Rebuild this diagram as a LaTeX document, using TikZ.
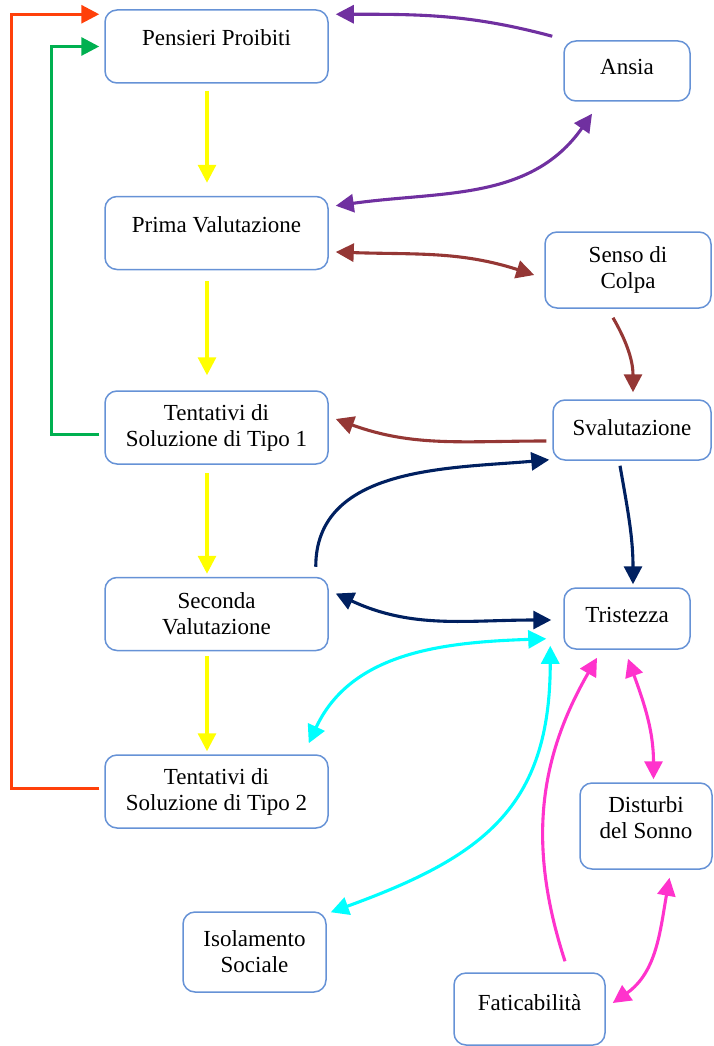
\documentclass[tikz,border=0pt]{standalone}
\usepackage{fontspec}
\setmainfont{Liberation Serif}
\usetikzlibrary{positioning,arrows.meta,calc}
\definecolor{boxblue}{RGB}{102,146,214}
\definecolor{redl}{RGB}{255,64,10}
\definecolor{greenl}{RGB}{0,176,80}
\definecolor{yell}{RGB}{255,255,0}
\definecolor{purp}{RGB}{112,48,160}
\definecolor{brownl}{RGB}{149,55,53}
\definecolor{navy}{RGB}{0,32,96}
\definecolor{cyanl}{RGB}{0,255,255}
\definecolor{magl}{RGB}{255,51,204}
\begin{document}
\begin{tikzpicture}[x=1pt,y=1pt,
  font=\fontsize{23}{26}\selectfont,>={Triangle[length=18pt,width=18pt]},
  box/.style={draw=boxblue,line width=1.5pt,rounded corners=12pt,fill=white,
              align=center,inner sep=0pt,minimum width=223pt,minimum height=73pt},
  lift/.style={text height=17pt,text depth=#1},
  arr/.style={->,line width=3.1pt},
  darr/.style={<->,line width=3.1pt},
]
  \useasboundingbox (0,0) rectangle (714,-1046);

  \node[box,lift=18pt] (pens) at (216.5,-46.5) {Pensieri Proibiti};
  \node[box,lift=19pt,below=112pt of pens] (prima) {Prima Valutazione};
  \node[box,below=120pt of prima] (tent1) {Tentativi di\\Soluzione di Tipo 1};
  \node[box,below=112pt of tent1] (sec) {Seconda\\Valutazione};
  \node[box,below=103pt of sec] (tent2) {Tentativi di\\Soluzione di Tipo 2};

  \node[box,lift=9pt,minimum width=126pt,minimum height=60pt] (ansia) at (627,-71) {Ansia};
  \node[box,minimum width=166pt,minimum height=76pt] (senso) at (628,-270) {Senso di\\Colpa};
  \node[box,lift=7pt,minimum width=158pt,minimum height=60pt] (sval) at (632,-430) {Svalutazione};
  \node[box,lift=10pt,minimum width=126pt,minimum height=61pt] (trist) at (627,-618.5) {Tristezza};
  \node[box,minimum width=132pt,minimum height=86pt] (dist) at (646,-826) {Disturbi\\del Sonno\\[-10pt]};
  \node[box,minimum width=143pt,minimum height=80pt] (isol) at (254.5,-952) {Isolamento\\Sociale};
  \node[box,lift=15pt,minimum width=151pt,minimum height=72pt] (fatic) at (529.5,-1009) {Faticabilità};

  \draw[arr,redl] ($(tent2.west)+(-5,3)$) -- ++(-88,0) |- ($(pens.north west)+(-5,-5)$);
  \draw[arr,greenl] ($(tent1.west)+(-5,-7)$) -- ++(-48,0) |- ($(pens.west)+(-5,0)$);

  \draw[arr,yell] ($(pens.south)+(-9.5,-7)$) -- ($(prima.north)+(-9.5,13)$);
  \draw[arr,yell] ($(prima.south)+(-9.5,-11)$) -- ($(tent1.north)+(-9.5,15)$);
  \draw[arr,yell] ($(tent1.south)+(-9.5,-8)$) -- ($(sec.north)+(-9.5,3)$);
  \draw[arr,yell] ($(sec.south)+(-9.5,-5)$) -- ($(tent2.north)+(-9.5,3)$);

  \draw[arr,purp] ($(ansia.north west)+(-11,4)$) to[out=165,in=0] ($(pens.north east)+(7,-5)$);
  \draw[darr,purp] ($(prima.north east)+(7,-10)$) to[out=8,in=235] ($(ansia.south)+(-35,-12)$);

  \draw[darr,brownl] ($(prima.east)+(7,-19)$) to[out=-2,in=162] ($(senso.west)+(-10,-5)$);
  \draw[arr,brownl] ($(senso.south)+(-15,-9)$) to[out=-60,in=90] ($(sval.north)+(1,7)$);
  \draw[arr,brownl] ($(sval.west)+(-6,-11)$) to[out=180,in=-20] ($(tent1.east)+(7,8.5)$);

  \draw[arr,navy] ($(sec.north east)+(-13,10)$) to[out=90,in=185] ($(sval.south west)+(-3,1)$);
  \draw[arr,navy] ($(sval.south)+(-12,-5)$) to[out=-80,in=90] ($(trist.north)+(6,3)$);
  \draw[darr,navy] ($(sec.east)+(7,20.5)$) to[out=-25,in=180] ($(trist.west)+(-12,-1.5)$);

  \draw[darr,cyanl] ($(tent2.north east)+(-20,11)$) to[out=65,in=182] ($(trist.south west)+(-17,11)$);
  \draw[darr,cyanl] ($(isol.north east)+(4,-1)$) to[out=20,in=-90,looseness=1.2] ($(trist.south west)+(-13,4)$);

  \draw[arr,magl] ($(fatic.north)+(35.5,11)$) to[out=108,in=240] ($(trist.south)+(-30,-8)$);
  \draw[darr,magl] ($(trist.south)+(1,-9)$) to[out=-70,in=90] ($(dist.north)+(7.5,3)$);
  \draw[darr,magl] ($(dist.south)+(23.5,-8)$) to[out=-100,in=35] ($(fatic.east)+(7,6)$);
\end{tikzpicture}
\end{document}
